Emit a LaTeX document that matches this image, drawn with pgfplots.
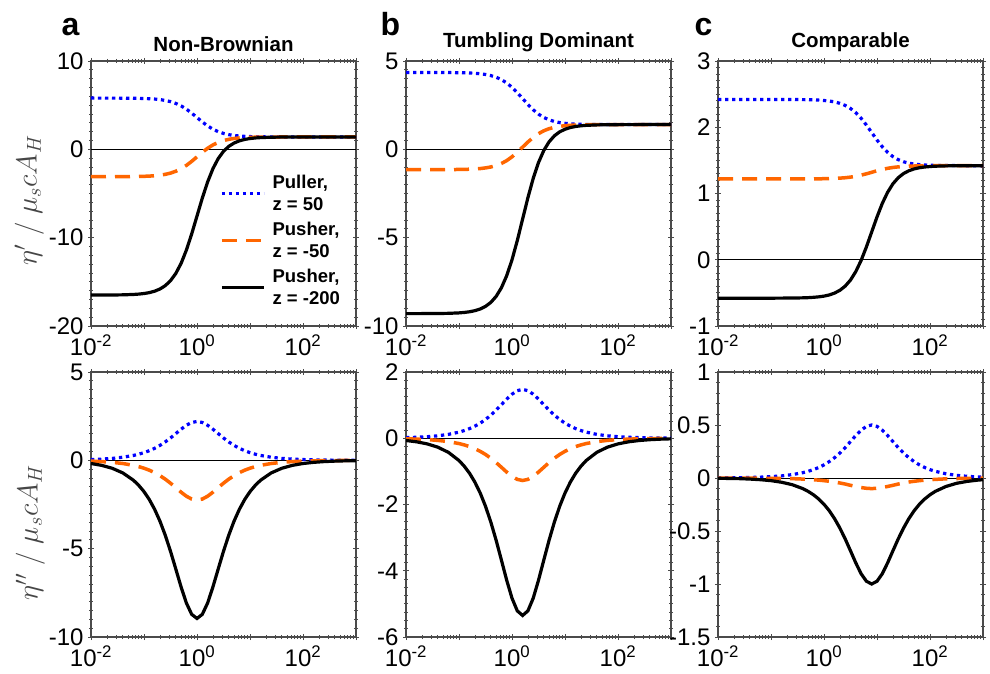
\documentclass[border=0pt]{standalone}
\usepackage{fontspec}
\setmainfont{Liberation Sans}
\usepackage{pgfplots}
\usepackage{pgfplotstable}
\pgfplotsset{compat=1.18}

\definecolor{pblue}{RGB}{0,0,255}
\definecolor{porange}{RGB}{255,102,0}
\definecolor{axgray}{RGB}{75,75,75}
\definecolor{labgray}{RGB}{70,70,70}

% columns: x, eta' (blue, orange, black), eta'' (blue, orange, black)
\pgfplotstableread{
x b1 o1 k1 b2 o2 k2
0.01 5.800 -3.100 -16.498 0.044 -0.045 -0.179
0.015849 5.799 -3.099 -16.496 0.070 -0.071 -0.284
0.025119 5.797 -3.097 -16.489 0.110 -0.113 -0.449
0.039811 5.793 -3.093 -16.472 0.175 -0.179 -0.712
0.063096 5.783 -3.082 -16.429 0.277 -0.283 -1.125
0.079433 5.772 -3.072 -16.388 0.347 -0.355 -1.413
0.1 5.756 -3.055 -16.323 0.436 -0.446 -1.772
0.12589 5.731 -3.030 -16.221 0.545 -0.558 -2.218
0.15849 5.692 -2.990 -16.061 0.680 -0.696 -2.768
0.19953 5.632 -2.928 -15.815 0.844 -0.864 -3.435
0.25119 5.539 -2.833 -15.438 1.040 -1.063 -4.229
0.31623 5.400 -2.691 -14.873 1.265 -1.294 -5.146
0.39811 5.198 -2.484 -14.051 1.512 -1.546 -6.151
0.50119 4.917 -2.197 -12.906 1.762 -1.803 -7.170
0.63096 4.547 -1.819 -11.403 1.986 -2.031 -8.078
0.79433 4.098 -1.359 -9.575 2.143 -2.192 -8.718
1 3.600 -0.850 -7.550 2.200 -2.250 -8.950
1.2589 3.102 -0.341 -5.525 2.143 -2.192 -8.718
1.5849 2.653 0.119 -3.697 1.986 -2.031 -8.078
1.9953 2.283 0.497 -2.194 1.762 -1.803 -7.170
2.5119 2.002 0.784 -1.049 1.512 -1.546 -6.151
3.1623 1.800 0.991 -0.227 1.265 -1.294 -5.146
3.9811 1.661 1.133 0.338 1.040 -1.063 -4.229
5.0119 1.568 1.228 0.715 0.844 -0.864 -3.435
6.3096 1.508 1.290 0.961 0.680 -0.696 -2.768
7.9433 1.469 1.330 1.121 0.545 -0.558 -2.218
10 1.444 1.355 1.223 0.436 -0.446 -1.772
12.589 1.428 1.372 1.288 0.347 -0.355 -1.413
15.849 1.417 1.382 1.329 0.277 -0.283 -1.125
25.119 1.407 1.393 1.372 0.175 -0.179 -0.712
39.811 1.403 1.397 1.389 0.110 -0.113 -0.449
63.096 1.401 1.399 1.396 0.070 -0.071 -0.284
100 1.400 1.400 1.398 0.044 -0.045 -0.179
158.49 1.400 1.400 1.399 0.028 -0.028 -0.113
251.19 1.400 1.400 1.400 0.018 -0.018 -0.071
398.11 1.400 1.400 1.400 0.011 -0.011 -0.045
630.96 1.400 1.400 1.400 0.007 -0.007 -0.028
1000 1.400 1.400 1.400 0.004 -0.005 -0.018
}\tabA

\pgfplotstableread{
x b1 o1 k1 b2 o2 k2
0.01 4.350 -1.150 -9.300 0.019 -0.016 -0.068
0.015849 4.350 -1.150 -9.299 0.030 -0.026 -0.107
0.025119 4.349 -1.149 -9.297 0.047 -0.040 -0.170
0.039811 4.348 -1.148 -9.293 0.074 -0.064 -0.269
0.063096 4.345 -1.146 -9.283 0.117 -0.101 -0.425
0.1 4.338 -1.140 -9.258 0.185 -0.160 -0.672
0.12589 4.332 -1.134 -9.233 0.233 -0.201 -0.845
0.15849 4.321 -1.125 -9.194 0.292 -0.252 -1.059
0.19953 4.304 -1.110 -9.133 0.366 -0.316 -1.326
0.25119 4.278 -1.088 -9.038 0.456 -0.394 -1.654
0.31623 4.237 -1.052 -8.890 0.566 -0.489 -2.053
0.39811 4.175 -0.999 -8.665 0.697 -0.603 -2.528
0.50119 4.082 -0.918 -8.327 0.848 -0.733 -3.076
0.63096 3.946 -0.801 -7.836 1.014 -0.876 -3.677
0.79433 3.758 -0.638 -7.152 1.182 -1.021 -4.286
1 3.510 -0.424 -6.253 1.331 -1.151 -4.829
1.2589 3.209 -0.164 -5.161 1.437 -1.242 -5.211
1.5849 2.875 0.125 -3.950 1.475 -1.275 -5.350
1.9953 2.541 0.414 -2.739 1.437 -1.242 -5.211
2.5119 2.240 0.674 -1.647 1.331 -1.151 -4.829
3.1623 1.992 0.888 -0.748 1.182 -1.021 -4.286
3.9811 1.804 1.051 -0.064 1.014 -0.876 -3.677
5.0119 1.668 1.168 0.427 0.848 -0.733 -3.076
6.3096 1.575 1.249 0.765 0.697 -0.603 -2.528
7.9433 1.513 1.302 0.990 0.566 -0.489 -2.053
10 1.472 1.338 1.138 0.456 -0.394 -1.654
12.589 1.446 1.360 1.233 0.366 -0.316 -1.326
15.849 1.429 1.375 1.294 0.292 -0.252 -1.059
19.953 1.418 1.384 1.333 0.233 -0.201 -0.845
25.119 1.412 1.390 1.358 0.185 -0.160 -0.672
39.811 1.405 1.396 1.383 0.117 -0.101 -0.425
63.096 1.402 1.398 1.393 0.074 -0.064 -0.269
100 1.401 1.399 1.397 0.047 -0.040 -0.170
158.49 1.400 1.400 1.399 0.030 -0.026 -0.107
251.19 1.400 1.400 1.400 0.019 -0.016 -0.068
398.11 1.400 1.400 1.400 0.012 -0.010 -0.043
630.96 1.400 1.400 1.400 0.007 -0.006 -0.027
1000 1.400 1.400 1.400 0.005 -0.004 -0.017
}\tabB

\pgfplotstableread{
x b1 o1 k1 b2 o2 k2
0.01 2.420 1.220 -0.580 0.001 0.000 -0.003
0.015849 2.420 1.220 -0.580 0.002 0.000 -0.004
0.025119 2.420 1.220 -0.580 0.003 -0.001 -0.006
0.039811 2.420 1.220 -0.580 0.005 -0.001 -0.010
0.063096 2.420 1.220 -0.580 0.008 -0.002 -0.016
0.1 2.420 1.220 -0.580 0.013 -0.003 -0.025
0.15849 2.420 1.220 -0.579 0.020 -0.004 -0.040
0.25119 2.419 1.220 -0.578 0.032 -0.006 -0.063
0.39811 2.417 1.221 -0.575 0.050 -0.010 -0.100
0.50119 2.416 1.221 -0.572 0.063 -0.013 -0.126
0.63096 2.414 1.221 -0.567 0.079 -0.016 -0.158
0.79433 2.410 1.222 -0.560 0.099 -0.020 -0.198
1 2.404 1.223 -0.549 0.124 -0.025 -0.248
1.2589 2.396 1.225 -0.531 0.155 -0.031 -0.309
1.5849 2.382 1.228 -0.503 0.192 -0.038 -0.384
1.9953 2.361 1.232 -0.461 0.236 -0.047 -0.473
2.5119 2.329 1.238 -0.398 0.287 -0.057 -0.575
3.1623 2.283 1.247 -0.306 0.344 -0.069 -0.687
3.9811 2.219 1.260 -0.178 0.401 -0.080 -0.801
5.0119 2.135 1.277 -0.011 0.451 -0.090 -0.903
6.3096 2.033 1.297 0.194 0.487 -0.097 -0.974
7.9433 1.920 1.320 0.420 0.500 -0.100 -1.000
10 1.807 1.343 0.646 0.487 -0.097 -0.974
12.589 1.705 1.363 0.851 0.451 -0.090 -0.903
15.849 1.621 1.380 1.018 0.401 -0.080 -0.801
19.953 1.557 1.393 1.146 0.344 -0.069 -0.687
25.119 1.511 1.402 1.238 0.287 -0.057 -0.575
31.623 1.479 1.408 1.301 0.236 -0.047 -0.473
39.811 1.458 1.412 1.343 0.192 -0.038 -0.384
50.119 1.445 1.415 1.371 0.155 -0.031 -0.309
63.096 1.436 1.417 1.389 0.124 -0.025 -0.248
79.433 1.430 1.418 1.400 0.099 -0.020 -0.198
100 1.426 1.419 1.407 0.079 -0.016 -0.158
125.89 1.424 1.419 1.412 0.063 -0.013 -0.126
199.53 1.422 1.420 1.417 0.040 -0.008 -0.080
316.23 1.421 1.420 1.419 0.025 -0.005 -0.050
501.19 1.420 1.420 1.419 0.016 -0.003 -0.032
794.33 1.420 1.420 1.420 0.010 -0.002 -0.020
1000 1.420 1.420 1.420 0.008 -0.002 -0.016
}\tabC

\pgfplotsset{
  every axis/.append style={
    width=265pt, height=265pt, scale only axis,
    xmode=log, xmin=0.01, xmax=1000,
    xtick={0.01,0.1,1,10,100,1000},
    xticklabels={10\textsuperscript{-2},,10\textsuperscript{0},,10\textsuperscript{2},},
    minor xtick={0.02,0.03,0.04,0.05,0.06,0.07,0.08,0.09,
      0.2,0.3,0.4,0.5,0.6,0.7,0.8,0.9,2,3,4,5,6,7,8,9,
      20,30,40,50,60,70,80,90,200,300,400,500,600,700,800,900},
    tick align=center,
    major tick length=6pt, minor tick length=4pt,
    every tick/.style={axgray, line width=0.9pt},
    axis line style={axgray, line width=1.2pt},
    tick label style={font=\fontsize{24}{26}\selectfont},
    yticklabel style={xshift=-1pt},
    xticklabel style={yshift=-2pt},
    /pgf/number format/assume math mode=true,
    title style={font=\bfseries\fontsize{20.5}{22}\selectfont},
    ylabel style={font=\fontsize{20}{24}\selectfont, text=labgray, anchor=center},
  },
}
\tikzset{
  sblue/.style={pblue, line width=3.2pt, dash pattern=on 3.3pt off 3.7pt},
  sorange/.style={porange, line width=3.5pt, dash pattern=on 15pt off 9pt},
  sblack/.style={black, line width=3.2pt},
}

\begin{document}
\begin{tikzpicture}
\path[use as bounding box] (0,0) rectangle (990pt,673pt);

% ---- top row: eta'
\begin{axis}[name=pa, at={(91pt,347pt)}, anchor=south west,
  title={Non-Brownian},
  ymin=-20, ymax=10, ytick={-20,-10,0,10}, minor y tick num=9,
  ylabel={\scalebox{1.4}{$\eta'\;/\;\mu_s c A_H$}},
  ylabel style={at={(axis description cs:-0.233,0.475)}},
  legend style={at={(0.475,0.585)}, anchor=north west, draw=none, fill=none,
    font=\bfseries\fontsize{18.5}{22}\selectfont,
    nodes={align=left}, cells={anchor=west}, row sep=6pt,
    /tikz/every odd column/.append style={column sep=5pt}},
  legend image code/.code={\draw[#1] (0pt,0pt) -- (42pt,0pt);}]
\addplot[black, line width=0.8pt, forget plot] coordinates {(0.01,0) (1000,0)};
\addplot[sblue] table[x=x, y=b1] {\tabA};
\addlegendentry{Puller,\\z = 50}
\addplot[sorange] table[x=x, y=o1] {\tabA};
\addlegendentry{Pusher,\\z = -50}
\addplot[sblack] table[x=x, y=k1] {\tabA};
\addlegendentry{Pusher,\\z = -200}
\end{axis}

\begin{axis}[name=pb, at={(406pt,347pt)}, anchor=south west,
  title={Tumbling Dominant},
  ymin=-10, ymax=5, ytick={-10,-5,0,5}, minor y tick num=9]
\addplot[black, line width=0.8pt, forget plot] coordinates {(0.01,0) (1000,0)};
\addplot[sblue] table[x=x, y=b1] {\tabB};
\addplot[sorange] table[x=x, y=o1] {\tabB};
\addplot[sblack] table[x=x, y=k1] {\tabB};
\end{axis}

\begin{axis}[name=pc, at={(718pt,347pt)}, anchor=south west,
  title={Comparable},
  ymin=-1, ymax=3, ytick={-1,0,1,2,3}, minor y tick num=9]
\addplot[black, line width=0.8pt, forget plot] coordinates {(0.01,0) (1000,0)};
\addplot[sblue] table[x=x, y=b1] {\tabC};
\addplot[sorange] table[x=x, y=o1] {\tabC};
\addplot[sblack] table[x=x, y=k1] {\tabC};
\end{axis}

% ---- bottom row: eta''
\begin{axis}[at={(91pt,36pt)}, anchor=south west,
  ymin=-10, ymax=5, ytick={-10,-5,0,5}, minor y tick num=9,
  ylabel={\scalebox{1.4}{$\eta''\;/\;\mu_s c A_H$}},
  ylabel style={at={(axis description cs:-0.229,0.394)}}]
\addplot[black, line width=0.8pt, forget plot] coordinates {(0.01,0) (1000,0)};
\addplot[sblue] table[x=x, y=b2] {\tabA};
\addplot[sorange] table[x=x, y=o2] {\tabA};
\addplot[sblack] table[x=x, y=k2] {\tabA};
\end{axis}

\begin{axis}[at={(406pt,36pt)}, anchor=south west,
  ymin=-6, ymax=2, ytick={-6,-4,-2,0,2}, minor y tick num=7]
\addplot[black, line width=0.8pt, forget plot] coordinates {(0.01,0) (1000,0)};
\addplot[sblue] table[x=x, y=b2] {\tabB};
\addplot[sorange] table[x=x, y=o2] {\tabB};
\addplot[sblack] table[x=x, y=k2] {\tabB};
\end{axis}

\begin{axis}[at={(718pt,36pt)}, anchor=south west,
  ymin=-1.5, ymax=1, ytick={-1.5,-1,-0.5,0,0.5,1}, minor y tick num=4]
\addplot[black, line width=0.8pt, forget plot] coordinates {(0.01,0) (1000,0)};
\addplot[sblue] table[x=x, y=b2] {\tabC};
\addplot[sorange] table[x=x, y=o2] {\tabC};
\addplot[sblack] table[x=x, y=k2] {\tabC};
\end{axis}

% panel letters
\node[anchor=base west, font=\bfseries\fontsize{32}{32}\selectfont] at ([xshift=-33pt,yshift=25pt]pa.north west) {a};
\node[anchor=base west, font=\bfseries\fontsize{32}{32}\selectfont] at ([xshift=-29pt,yshift=25pt]pb.north west) {b};
\node[anchor=base west, font=\bfseries\fontsize{32}{32}\selectfont] at ([xshift=-27pt,yshift=25pt]pc.north west) {c};
\end{tikzpicture}
\end{document}
